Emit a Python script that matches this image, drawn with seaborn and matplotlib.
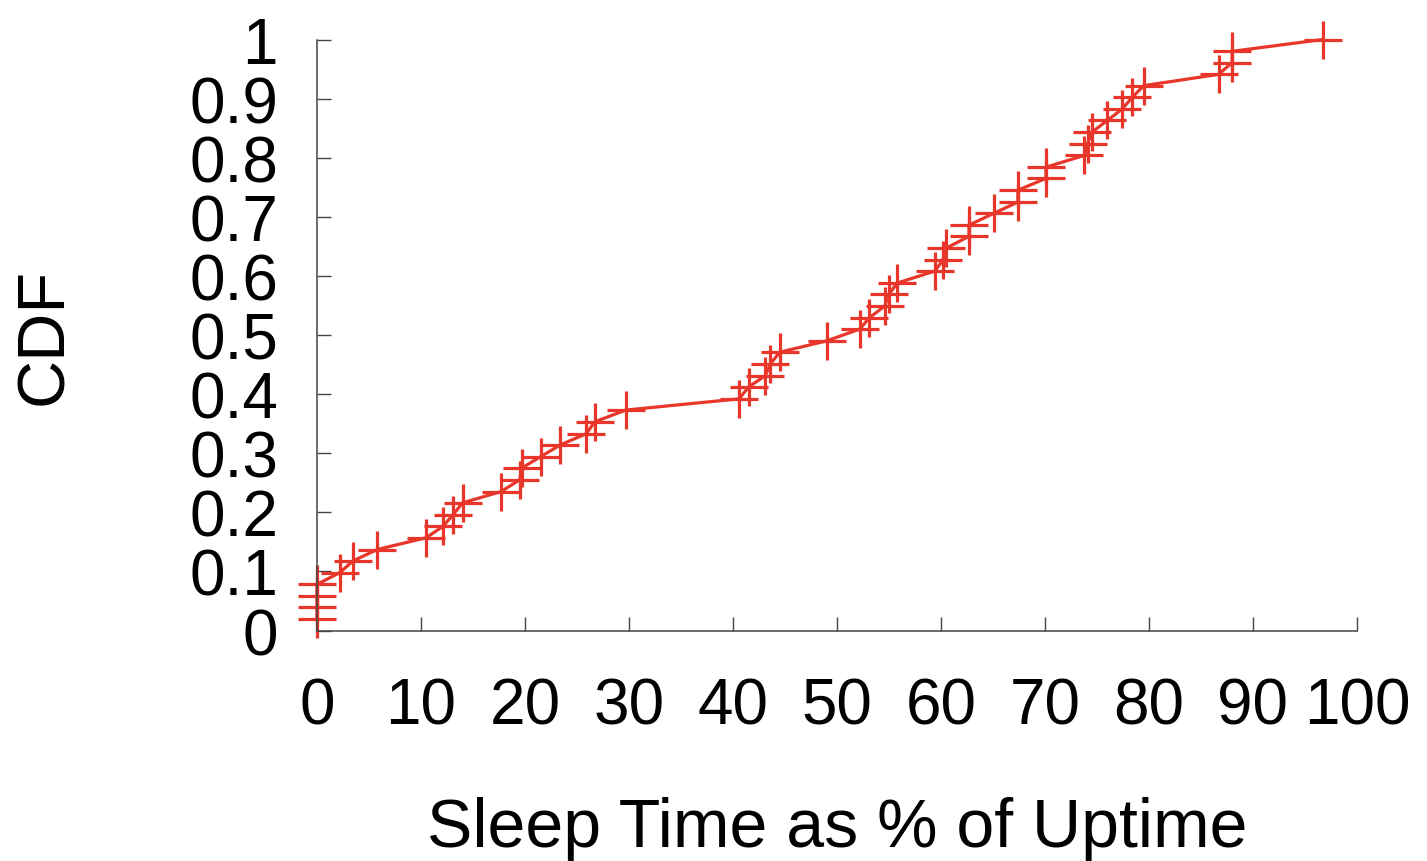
import matplotlib
matplotlib.use("Agg")
import matplotlib.pyplot as plt
import seaborn as sns
import pandas as pd

# Data (CDF of sleep time as % of uptime)
sleep_pct = [0.0, 0.0, 0.0, 0.0, 2.2, 3.5, 5.8, 10.5, 12.1, 13.1,
             14.0, 17.7, 19.5, 19.7, 21.5, 23.4, 25.9, 26.7, 29.7, 40.6,
             41.5, 43.1, 43.6, 44.5, 49.0, 52.2, 53.1, 54.6, 55.0, 55.8,
             59.4, 60.2, 60.5, 62.7, 62.7, 65.1, 67.4, 67.4, 70.1, 70.1,
             73.8, 74.1, 74.5, 76.0, 77.4, 78.4, 79.5, 86.7, 88.0, 88.0,
             96.7]
cdf = [0.020, 0.039, 0.059, 0.078, 0.098, 0.118, 0.137, 0.157, 0.176, 0.196,
       0.216, 0.235, 0.255, 0.275, 0.294, 0.314, 0.333, 0.353, 0.373, 0.392,
       0.412, 0.431, 0.451, 0.471, 0.490, 0.510, 0.529, 0.549, 0.569, 0.588,
       0.608, 0.627, 0.647, 0.667, 0.686, 0.706, 0.725, 0.745, 0.765, 0.784,
       0.804, 0.824, 0.843, 0.863, 0.882, 0.902, 0.922, 0.941, 0.961, 0.980,
       1.000]
x_ticks = [0, 10, 20, 30, 40, 50, 60, 70, 80, 90, 100]
x_tick_labels = ["0", "10", "20", "30", "40", "50", "60", "70", "80", "90", "100"]
y_ticks = [0, 0.1, 0.2, 0.3, 0.4, 0.5, 0.6, 0.7, 0.8, 0.9, 1.0]
y_tick_labels = ["0", "0.1", "0.2", "0.3", "0.4", "0.5", "0.6", "0.7", "0.8", "0.9", "1"]
x_label = "Sleep Time as % of Uptime"
y_label = "CDF"

sns.set_style("ticks")
plt.rcParams["font.family"] = ["Liberation Sans", "DejaVu Sans"]

df = pd.DataFrame({"x": sleep_pct, "y": cdf})

fig = plt.figure(figsize=(14.27, 8.62), dpi=100)
ax = fig.add_axes([0.2221, 0.2674, 0.7288, 0.6856])

red = "#e8362a"
sns.lineplot(data=df, x="x", y="y", ax=ax, sort=False, estimator=None,
             color=red, linewidth=2.3, marker="+", markersize=27,
             markeredgewidth=2.3, markeredgecolor=red, clip_on=False)

ax.set_xlim(0, 100)
ax.set_ylim(0, 1)
ax.set_xticks(x_ticks)
ax.set_xticklabels(x_tick_labels)
ax.set_yticks(y_ticks)
ax.set_yticklabels(y_tick_labels)

for side in ["top", "right"]:
    ax.spines[side].set_visible(False)
for side in ["left", "bottom"]:
    ax.spines[side].set_color("#444444")
    ax.spines[side].set_linewidth(1.1)

ax.tick_params(axis="both", direction="in", length=10, width=1.0,
               color="#444444", labelsize=46, labelcolor="black")
ax.tick_params(axis="y", pad=28)
ax.tick_params(axis="x", pad=33)

ax.set_xlabel(x_label, fontsize=49, color="black")
ax.set_ylabel(y_label, fontsize=48, color="black")
ax.xaxis.set_label_coords(0.5, -0.28)
ax.yaxis.set_label_coords(-0.232, 0.5)

fig.savefig("out.png", dpi=100)
